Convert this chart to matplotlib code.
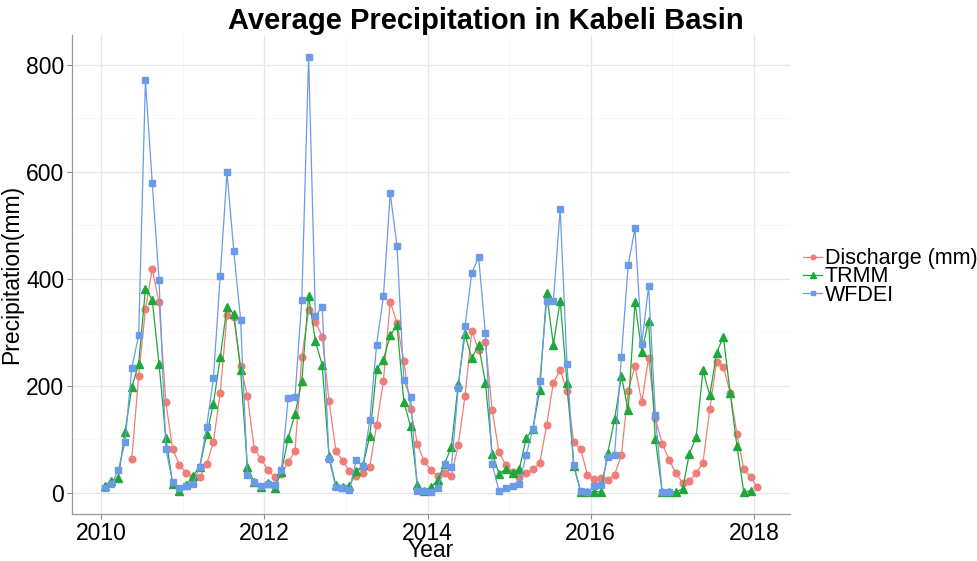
import numpy as np
import matplotlib
matplotlib.use("Agg")
import matplotlib.pyplot as plt
from matplotlib.ticker import MultipleLocator

plt.rcParams['font.family'] = ['Liberation Sans', 'DejaVu Sans']

# Monthly series (start year 2010, month index 0 = Jan 2010)
discharge_start = 4   # May 2010
discharge = [64, 218, 343, 418, 356, 169, 82, 52,
             37, 29, 29, 53, 95, 187, 332, 328, 237, 181, 82, 64,
             42, 29, 36, 57, 78, 254, 341, 320, 292, 172, 79, 59,
             41, 31, 37, 49, 126, 209, 357, 317, 246, 157, 91, 59,
             42, 31, 37, 32, 89, 181, 303, 267, 282, 154, 76, 52,
             39, 29, 37, 44, 56, 126, 206, 229, 190, 94, 82, 34,
             26, 28, 23, 34, 70, 191, 237, 169, 252, 139, 92, 62,
             37, 19, 22, 37, 56, 156, 245, 236, 187, 110, 45, 29,
             11]

trmm_start = 0
trmm = [12, 22, 27, 114, 197, 241, 381, 361, 241, 103, 17, 3,
        14, 32, 49, 109, 166, 253, 348, 334, 229, 48, 20, 11,
        18, 9, 39, 103, 147, 209, 368, 283, 239, 68, 14, 11,
        12, 40, 51, 107, 231, 249, 294, 314, 170, 124, 15, 3,
        10, 24, 54, 86, 203, 296, 251, 277, 206, 73, 36, 44,
        37, 45, 102, 119, 193, 373, 277, 359, 206, 50, 2, 1,
        2, 2, 75, 137, 218, 154, 356, 264, 321, 100, 1, 1,
        2, 7, 73, 104, 229, 182, 261, 292, 187, 87, 1, 4]

wfdei_start = 0
wfdei = [9, 16, 42, 95, 234, 294, 771, 579, 398, 82, 20, 9,
         12, 17, 49, 123, 214, 406, 599, 451, 323, 34, 20, 12,
         17, 15, 42, 178, 179, 361, 815, 330, 348, 64, 10, 8,
         6, 61, 50, 136, 277, 367, 560, 462, 210, 179, 4, 4,
         2, 8, 54, 48, 195, 311, 411, 441, 298, 54, 3, 9,
         12, 17, 71, 119, 209, 358, 358, 531, 240, 51, 3, 2,
         12, 14, 66, 71, 254, 426, 494, 278, 386, 145, 1, 1]

series_names = ["Discharge (mm)", "TRMM", "WFDEI"]
year_ticks = [2010, 2012, 2014, 2016, 2018]
y_ticks = [0, 200, 400, 600, 800]


def to_time(start, n):
    idx = np.arange(start, start + n)
    return 2010 + (idx + 0.5) / 12.0


fig = plt.figure(figsize=(9.77, 5.61), dpi=100)
ax = fig.add_axes([72 / 977, 1 - 514 / 561, (790 - 72) / 977, (514 - 35) / 561])

styles = [
    dict(color="#EE7E77", marker="o", ms=4.8),
    dict(color="#1FA83A", marker="^", ms=5.8),
    dict(color="#6A9BE8", marker="s", ms=4.8),
]
data = [(discharge_start, discharge), (trmm_start, trmm), (wfdei_start, wfdei)]

handles = []
for (start, vals), st, name, z in zip(data, styles, series_names, [2, 3, 4]):
    t = to_time(start, len(vals))
    h, = ax.plot(t, vals, color=st["color"], lw=0.9, marker=st["marker"],
                 ms=st["ms"], mec=st["color"], mfc=st["color"], label=name,
                 zorder=z)
    handles.append(h)

all_t = np.concatenate([to_time(s, len(v)) for s, v in data])
tmin, tmax = all_t.min(), all_t.max()
pad = 0.05 * (tmax - tmin)
ax.set_xlim(tmin - pad, tmax + pad)
allv = np.concatenate([np.asarray(v, float) for _, v in data])
vpad = 0.05 * (allv.max() - allv.min())
ax.set_ylim(allv.min() - vpad, allv.max() + vpad)

ax.set_xticks(year_ticks)
ax.set_yticks(y_ticks)
ax.xaxis.set_minor_locator(MultipleLocator(1))
ax.yaxis.set_minor_locator(MultipleLocator(100))
ax.grid(True, which="major", color="#e6e6e6", lw=0.9)
ax.grid(True, which="minor", color="#f6f6f6", lw=0.6)
ax.set_axisbelow(True)

for s in ["top", "right"]:
    ax.spines[s].set_visible(False)
for s in ["left", "bottom"]:
    ax.spines[s].set_color("#9a9a9a")
    ax.spines[s].set_linewidth(0.9)

ax.tick_params(which="major", length=3.5, width=0.8, color="#8a8a8a",
               labelsize=16.5, labelcolor="black", pad=2)
ax.tick_params(which="minor", length=0)

ax.set_xlabel("Year", fontsize=16.5, labelpad=-4)
ax.set_ylabel("Precipitation(mm)", fontsize=16.5, labelpad=2)

fig.text(486 / 977, 1 - 21 / 561, "Average Precipitation in Kabeli Basin",
         ha="center", va="center", fontsize=21, fontweight="bold")

leg = fig.legend(handles=handles, labels=series_names, loc="center left",
                 bbox_to_anchor=(803 / 977, 1 - 277 / 561), frameon=False,
                 fontsize=15.5, handlelength=0.9, handletextpad=0.1,
                 labelspacing=-0.12, borderpad=0.0, borderaxespad=0.0,
                 markerscale=0.7)

fig.savefig("out.png", dpi=100, facecolor="white")
